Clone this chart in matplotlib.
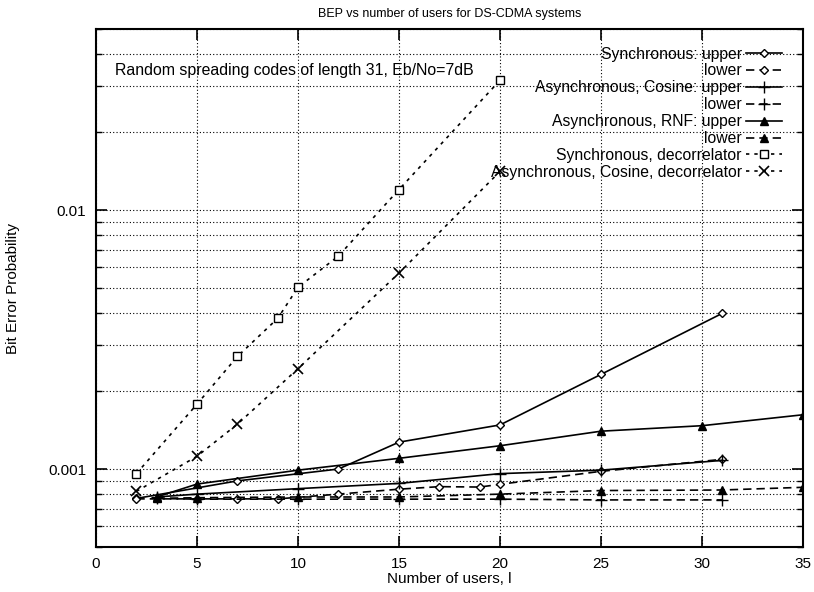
import matplotlib
matplotlib.use("Agg")
import matplotlib.pyplot as plt
from matplotlib.ticker import FixedLocator, FixedFormatter, NullFormatter
import numpy as np

plt.rcParams['font.family'] = ['Liberation Sans', 'DejaVu Sans']

# ---- data ----
sync_up_x = [2, 7, 12, 15, 20, 25, 31]
sync_up_y = [0.00077, 0.00090, 0.00100, 0.00127, 0.00148, 0.00232, 0.00399]

sync_lo_x = [2, 5, 7, 9, 12, 15, 17, 19, 20, 25, 31]
sync_lo_y = [0.000767, 0.000767, 0.000767, 0.000767, 0.00080, 0.000836,
             0.000855, 0.000852, 0.000873, 0.00098, 0.00109]

cos_up_x = [3, 5, 10, 15, 20, 25, 31]
cos_up_y = [0.00078, 0.00080, 0.00084, 0.00088, 0.00096, 0.00099, 0.00108]

cos_lo_x = [3, 5, 10, 15, 20, 25, 31]
cos_lo_y = [0.00077, 0.000765, 0.000765, 0.000765, 0.000765, 0.00076, 0.00076]

rnf_up_x = [3, 5, 10, 15, 20, 25, 30, 35]
rnf_up_y = [0.00078, 0.000875, 0.00099, 0.00110, 0.00123, 0.00140, 0.00147, 0.00162]

rnf_lo_x = [3, 5, 10, 15, 20, 25, 31, 35]
rnf_lo_y = [0.00077, 0.000775, 0.00078, 0.00078, 0.00080, 0.000826, 0.00083, 0.00085]

sdec_x = [2, 5, 7, 9, 10, 12, 15, 20]
sdec_y = [0.00096, 0.00178, 0.00272, 0.00382, 0.00503, 0.00664, 0.0120, 0.0317]

adec_x = [2, 5, 7, 10, 15, 20]
adec_y = [0.00082, 0.00112, 0.00149, 0.00244, 0.00571, 0.0141]

labels = ["Synchronous: upper", "lower", "Asynchronous, Cosine: upper", "lower",
          "Asynchronous, RNF: upper", "lower", "Synchronous, decorrelator",
          "Asynchronous, Cosine, decorrelator"]

x_ticks = [0, 5, 10, 15, 20, 25, 30, 35]
y_ticks = [0.001, 0.01]
y_ticklabels = ["0.001", "0.01"]

# ---- figure ----
W, H = 814, 592
fig = plt.figure(figsize=(W / 100, H / 100), dpi=100)
left, right, top, bottom = 96, 803, 29, 547
ax = fig.add_axes([left / W, 1 - bottom / H, (right - left) / W, (bottom - top) / H])

dash = (0, (5, 3))
dot = (0, (2, 3))
lw = 1.2
ms = 5

ax.plot(sync_up_x, sync_up_y, color='k', lw=lw, ls='-', marker='D', ms=ms - 1,
        mfc='white', mec='k', mew=1.0, label=labels[0])
ax.plot(sync_lo_x, sync_lo_y, color='k', lw=lw, ls=dash, marker='D', ms=ms - 1,
        mfc='white', mec='k', mew=1.0, label=labels[1])
ax.plot(cos_up_x, cos_up_y, color='k', lw=lw, ls='-', marker='+', ms=8,
        mew=1.0, label=labels[2])
ax.plot(cos_lo_x, cos_lo_y, color='k', lw=lw, ls=dash, marker='+', ms=8,
        mew=1.0, label=labels[3])
ax.plot(rnf_up_x, rnf_up_y, color='k', lw=lw, ls='-', marker='^', ms=ms + 1,
        mfc='k', mec='k', label=labels[4])
ax.plot(rnf_lo_x, rnf_lo_y, color='k', lw=lw, ls=dash, marker='^', ms=ms + 1,
        mfc='k', mec='k', label=labels[5])
ax.plot(sdec_x, sdec_y, color='k', lw=lw, ls=dot, marker='s', ms=ms + 1,
        mfc='white', mec='k', mew=1.0, label=labels[6])
ax.plot(adec_x, adec_y, color='k', lw=lw, ls=dot, marker='x', ms=7,
        mew=1.2, label=labels[7])

ax.set_yscale('log')
ax.set_xlim(0, 35)
ax.set_ylim(0.0005, 0.05)

ax.xaxis.set_major_locator(FixedLocator(x_ticks))
ax.yaxis.set_major_locator(FixedLocator(y_ticks))
ax.yaxis.set_major_formatter(FixedFormatter(y_ticklabels))
minor_y = [m * 10.0 ** e for e in (-4, -3, -2) for m in range(2, 10)]
minor_y = [v for v in minor_y if 0.0005 <= v <= 0.05]
ax.yaxis.set_minor_locator(FixedLocator(minor_y))
ax.yaxis.set_minor_formatter(NullFormatter())

ax.tick_params(axis='both', which='major', direction='in', length=8, width=1.2,
               top=True, right=True, labelsize=11, pad=7)
ax.tick_params(axis='y', which='minor', direction='in', length=4, width=1.0,
               left=True, right=True)
ax.tick_params(axis='x', which='both', bottom=True)

ax.grid(True, which='major', axis='both', color='k', lw=0.8, ls=(0, (1, 2)))
ax.grid(True, which='minor', axis='y', color='k', lw=0.8, ls=(0, (1, 2)))

for s in ax.spines.values():
    s.set_linewidth(1.5)

ax.set_title("BEP vs number of users for DS-CDMA systems", fontsize=9, pad=9)
ax.set_xlabel("Number of users, l", fontsize=11, labelpad=1)
ax.set_ylabel("Bit Error Probability", fontsize=11, labelpad=20)

ax.text(0.027, 0.92, "Random spreading codes of length 31, Eb/No=7dB",
        transform=ax.transAxes, fontsize=11.4, ha='left', va='center')

leg = ax.legend(loc='upper right', bbox_to_anchor=(0.97, 0.966), frameon=False,
                markerfirst=False, fontsize=11.3, numpoints=1, handlelength=2.3,
                handletextpad=0.25, labelspacing=0.12, borderaxespad=0, borderpad=0)

fig.savefig("out.png", dpi=100)
